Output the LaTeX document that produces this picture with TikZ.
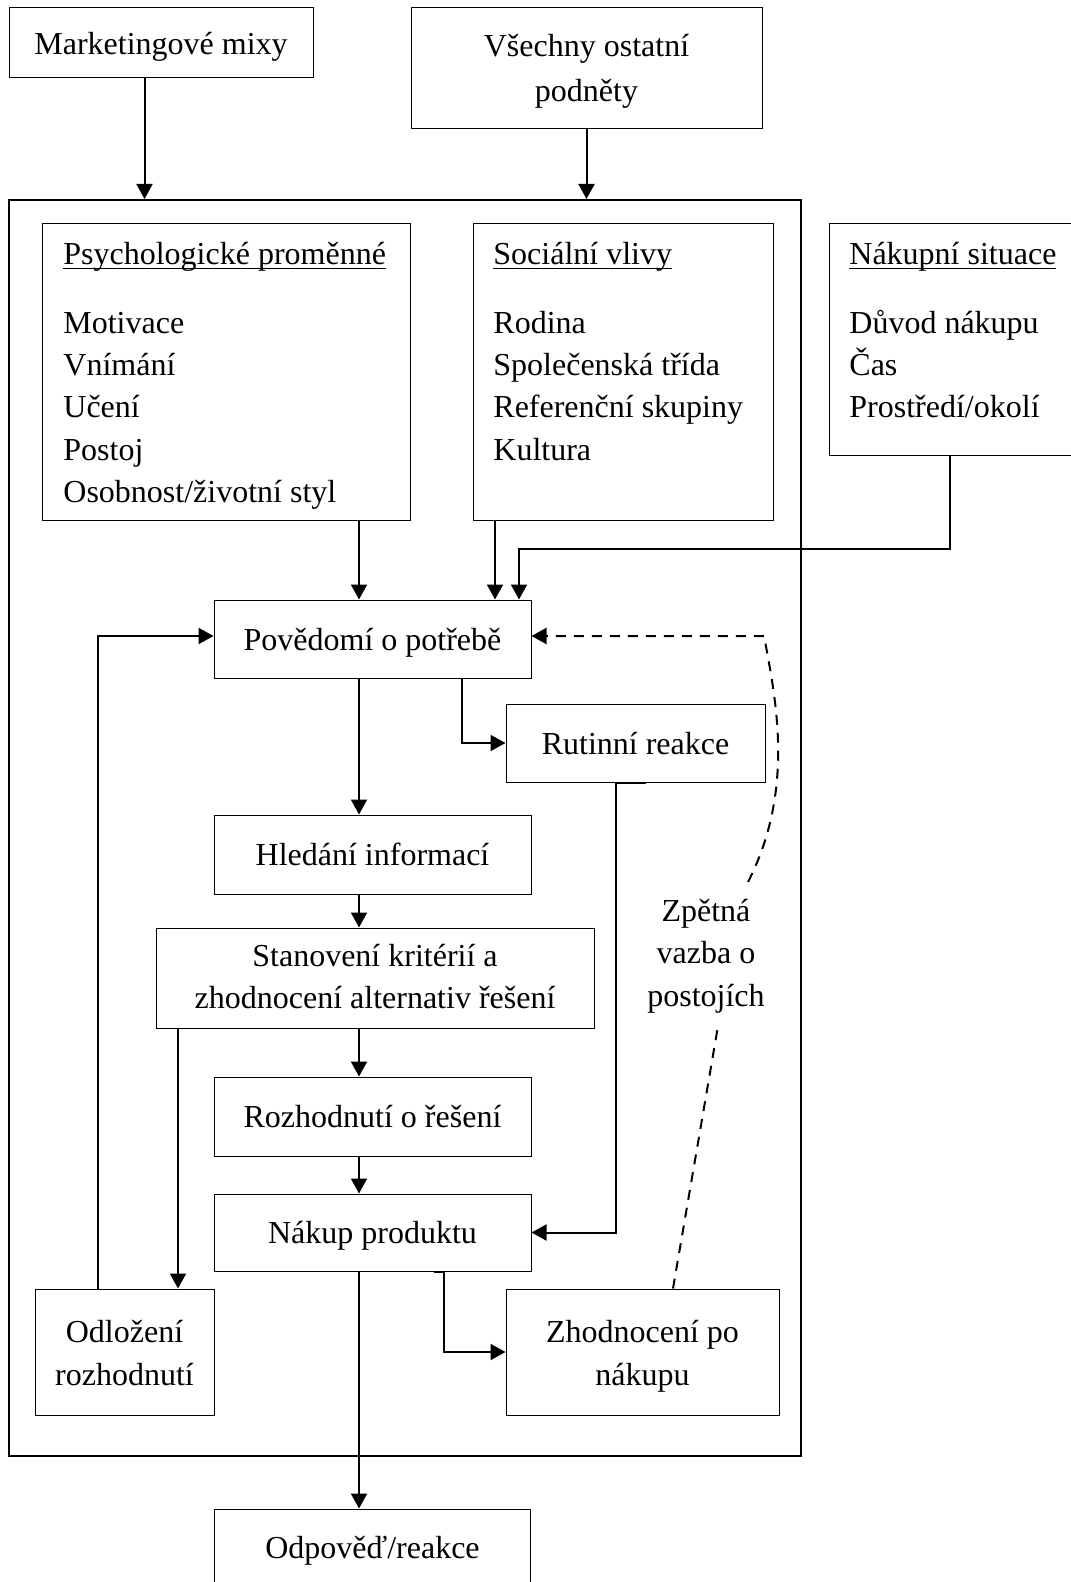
\documentclass[tikz,border=0pt]{standalone}
\usepackage{fontspec}
\setmainfont{Liberation Serif}
\usetikzlibrary{arrows.meta,calc}
% underline set close to the baseline, as in a word processor
\newcommand\ulinetext[1]{\setbox0\hbox{#1}\rlap{\rule[-2.4pt]{\wd0}{0.7pt}}\box0}
% centred box text on fixed line struts, set a little low in its box
\newcommand\lowtext[2][1.3pt]{\raisebox{-#1}[\height][\depth]{\begin{tabular}{@{}c@{}}#2\end{tabular}}}
\begin{document}
\begin{tikzpicture}[x=0.5pt,y=-0.5pt,
  every node/.style={font=\fontsize{16pt}{21.2pt}\selectfont},
  box/.style={draw, line width=0.5pt, inner sep=0pt},
  outer/.style={draw, line width=1pt, inner sep=0pt},
  txt/.style={inner sep=0pt, align=left},
  arr/.style={line width=1pt, -{Triangle[length=7.5pt,width=8pt]}},
  fb/.style={line width=1pt, dash pattern=on 5pt off 4pt},
]
\useasboundingbox (0,0) rectangle (1070,1582);

% stimuli outside the consumer
\node[box, minimum width=152pt, minimum height=35pt] (mix) at (161,43) {\lowtext{Marketingové mixy}};
\node[box, minimum width=175.5pt, minimum height=60.5pt] (oth) at (586.5,68.5) {\lowtext[1pt]{Všechny ostatní\\[1.5pt]podněty}};

% the consumer
\node[outer, minimum width=396pt, minimum height=628pt] (frame) at (405,828) {};

% influencing factors
\node[box, minimum width=184pt, minimum height=148.5pt] (psych) at (226,372.5) {};
\node[txt, anchor=north west] (psychtxt) at (63,242)
  {\ulinetext{Psychologické proměnné}\\[13pt]Motivace\\Vnímání\\Učení\\Postoj\\Osobnost/životní styl};
\node[box, minimum width=150pt, minimum height=148.5pt] (soc) at (623,372.5) {};
\node[txt, anchor=north west] (soctxt) at (493,242)
  {\ulinetext{Sociální vlivy}\\[13pt]Rodina\\Společenská třída\\Referenční skupiny\\Kultura};
\node[box, minimum width=128pt, minimum height=116pt] (situ) at (957,340) {};
\node[txt, anchor=north west] (situtxt) at (849,242)
  {\ulinetext{Nákupní situace}\\[13pt]Důvod nákupu\\Čas\\Prostředí/okolí};

% decision process
\node[box, minimum width=158.5pt, minimum height=39pt] (pov) at (372.5,639) {\lowtext{Povědomí o potřebě}};
\node[box, minimum width=129.5pt, minimum height=39pt] (rut) at (635.5,743) {\lowtext[1.7pt]{Rutinní reakce}};
\node[box, minimum width=158.5pt, minimum height=39.5pt] (hled) at (372.5,854.5) {\lowtext{Hledání informací}};
\node[box, minimum width=219pt, minimum height=50pt] (stan) at (375,978) {\lowtext[0.6pt]{Stanovení kritérií a\\zhodnocení alternativ řešení}};
\node[box, minimum width=158.5pt, minimum height=39.5pt] (roz) at (372.5,1116.5) {\lowtext{Rozhodnutí o řešení}};
\node[box, minimum width=158.5pt, minimum height=38.5pt] (buy) at (372.5,1232.5) {\lowtext{Nákup produktu}};
\node[box, minimum width=89.5pt, minimum height=63pt] (odl) at (124.5,1352) {\lowtext[1.7pt]{Odložení\\rozhodnutí}};
\node[box, minimum width=136.5pt, minimum height=63pt] (zhod) at (642.5,1352) {\lowtext[1.7pt]{Zhodnocení po\\nákupu}};
\node[box, minimum width=158pt, minimum height=39pt] (odp) at (372.5,1548) {\lowtext[0.9pt]{Odpověď/reakce}};
\node[inner sep=0pt, align=center] (fbtext) at (706,956) {Zpětná\\vazba o\\postojích};

% connector columns
\coordinate (col) at (359,0);
\coordinate (mx) at (144.5,0);
\coordinate (sx) at (495,0);
\coordinate (nx) at (950,0);
\coordinate (ny) at (519,549);
\coordinate (lx) at (97.5,0);
\coordinate (rx) at (462,0);
\coordinate (dx) at (178,0);
\coordinate (fbA) at (748,882);
\coordinate (fbB) at (718,1026);

% stimuli into the consumer
\draw[arr] (mix.south -| mx) -- (frame.north -| mx);
\draw[arr] (oth.south) -- (oth.south |- frame.north);

% factors into need recognition
\draw[arr] (psych.south -| col) -- (pov.north -| col);
\draw[arr] (soc.south -| sx) -- (pov.north -| sx);
\draw[arr] (situ.south -| nx) |- (ny) -- (pov.north -| ny);

% main sequence
\draw[arr] (pov.south -| col) -- (hled.north -| col);
\draw[arr] (hled.south -| col) -- (stan.north -| col);
\draw[arr] (stan.south -| col) -- (roz.north -| col);
\draw[arr] (roz.south -| col) -- (buy.north -| col);
\draw[arr] (buy.south -| col) -- (odp.north -| col);

% side branches
\draw[arr] (pov.south -| rx) |- (rut.west);
\draw[arr] ($(rut.south)+(10,0)$) -- ($(rut.south)+(-20,0)$) |- (buy.east);
\draw[arr] ($(buy.south)+(61.5,0)$) -- ($(buy.south)+(71.5,0)$) |- (zhod.west);
\draw[arr] (stan.south -| dx) -- (odl.north -| dx);
\draw[arr] (odl.north -| lx) |- ($(pov.west)+(0,-3)$);

% attitude feedback
\draw[fb] ($(zhod.north)+(30.5,0)$) -- (fbB);
\draw[fb, arr] (fbA) .. controls (795,790) and (776,700) .. (764,636) -- ($(pov.east)+(0,-3)$);
\end{tikzpicture}
\end{document}
